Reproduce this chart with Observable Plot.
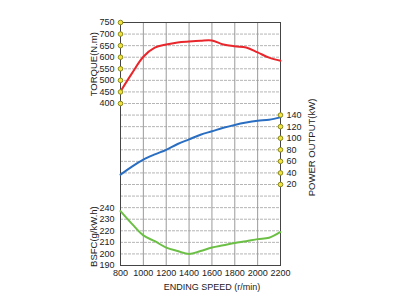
<!DOCTYPE html>
<html><head><meta charset="utf-8">
<script src="https://cdn.jsdelivr.net/npm/d3@7"></script>
<script src="https://cdn.jsdelivr.net/npm/@observablehq/plot@0.6"></script>
<style>body{margin:0;background:#fff}</style>
</head><body><div id="chart"></div>
<script>
const speed = [800, 900, 1000, 1100, 1200, 1300, 1400, 1500, 1600, 1700, 1800, 1900, 2000, 2100, 2200];
const torque = [452, 530, 602, 641, 655, 664, 668, 671, 672, 655, 647, 642, 621, 598, 585];
const power = [37, 51, 63, 72, 80, 90, 98, 106, 112, 118, 123, 127, 130, 132, 136];
const bsfc = [237, 226, 216, 211, 205.5, 202.5, 200, 202.5, 205.5, 207.5, 209.5, 211, 212.8, 214, 219];
const xTicks = [800, 1000, 1200, 1400, 1600, 1800, 2000, 2200];
const torqueTicks = [400, 450, 500, 550, 600, 650, 700, 750];
const powerTicks = [20, 40, 60, 80, 100, 120, 140];
const bsfcTicks = [190, 200, 210, 220, 230, 240];

// map each quantity onto a shared grid of 21 units
const tU = t => 14 + (t - 400) / 50;
const pU = p => 6 + p / 20;
const bU = b => (b - 190) / 10;

const series = (vals, f) => speed.map((s, i) => ({s, v: f(vals[i])}));

const chart = Plot.plot({
  width: 400, height: 300,
  marginLeft: 120, marginRight: 120, marginTop: 22, marginBottom: 35,
  x: {domain: [800, 2200], axis: null},
  y: {domain: [0, 21], axis: null},
  style: {fontFamily: "'Liberation Sans', Arial, sans-serif", fontSize: "9px", background: "white", color: "#222"},
  marks: [
    Plot.ruleY(d3.range(0, 22), {y: d => d, stroke: "#b5b5b5", strokeDasharray: "3,1"}),
    Plot.ruleX(xTicks, {x: d => d, stroke: "#9a9a9a"}),
    Plot.frame({stroke: "#444"}),
    Plot.line(series(torque, tU), {x: "s", y: "v", stroke: "#e8262b", strokeWidth: 2, curve: "catmull-rom"}),
    Plot.line(series(power, pU), {x: "s", y: "v", stroke: "#2a6ec2", strokeWidth: 2, curve: "catmull-rom"}),
    Plot.line(series(bsfc, bU), {x: "s", y: "v", stroke: "#6cbf45", strokeWidth: 2, curve: "catmull-rom"}),
    Plot.dot(torqueTicks, {x: 800, y: d => tU(d), r: 2.3, fill: "#f2e43c", stroke: "#8a8a20", strokeWidth: 1}),
    Plot.dot(powerTicks, {x: 2200, y: d => pU(d), r: 2.3, fill: "#f2e43c", stroke: "#8a8a20", strokeWidth: 1}),
    Plot.text(torqueTicks, {x: 800, y: d => tU(d), text: d => String(d), textAnchor: "end", dx: -6, fill: "#222"}),
    Plot.text(bsfcTicks, {x: 800, y: d => bU(d), text: d => String(d), textAnchor: "end", dx: -6, fill: "#222"}),
    Plot.text(powerTicks, {x: 2200, y: d => pU(d), text: d => String(d), textAnchor: "start", dx: 6, fill: "#222"}),
    Plot.text(xTicks, {x: d => d, y: 0, text: d => String(d), dy: 8, fill: "#222"}),
    Plot.text(["TORQUE(N.m)"], {x: 800, y: 17.4, text: d => d, dx: -27, rotate: -90, fill: "#222", fontSize: 9.5}),
    Plot.text(["BSFC(g/kW.h)"], {x: 800, y: 2.5, text: d => d, dx: -27, rotate: -90, fill: "#222", fontSize: 9.5}),
    Plot.text(["POWER OUTPUT(kW)"], {x: 2200, y: 10.2, text: d => d, dx: 31, rotate: -90, fill: "#222", fontSize: 9.5}),
    Plot.text(["ENDING SPEED (r/min)"], {x: 1600, y: 0, text: d => d, dy: 22, fill: "#222", fontSize: 9})
  ]
});
document.getElementById("chart").appendChild(chart);
</script>
</body></html>
